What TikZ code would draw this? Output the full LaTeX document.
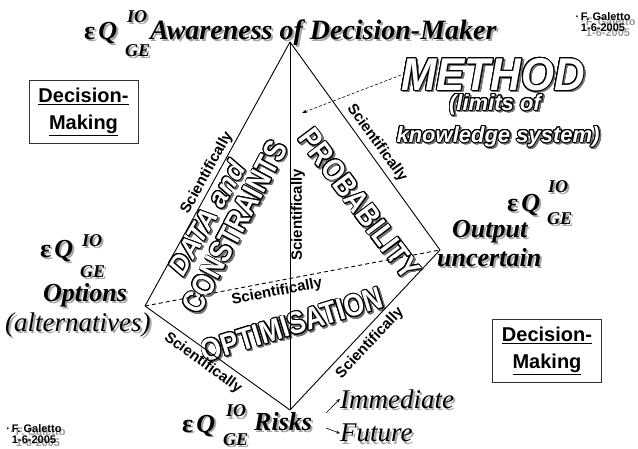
\documentclass[tikz,border=0pt]{standalone}
\usepackage{fontspec}
\setmainfont{Liberation Serif}
\setsansfont{Liberation Sans}
\newfontfamily\narrowfont[FakeStretch=0.85]{Liberation Sans}
\newfontfamily\methfont[FakeStretch=0.92]{Liberation Sans}
\usepackage{contour}
\contourlength{0.9pt}
\contournumber{20}
\usetikzlibrary{calc,arrows.meta}

\newcommand\shnode[4]{%
  \node[#3, text=black!35] at ($(#2)+(2,2)$) {#4};
  \node[#3] (#1) at (#2) {#4};}
\newcommand\olnode[4]{%
  \node[#3, text=black!55] at ($(#2)+(1.6,1.6)$) {\contour{black!55}{#4}};
  \node[#3, text=white] (#1) at (#2) {\contour{black}{#4}};}

\tikzset{
  edge/.style={line width=0.9pt, black},
  sci/.style={font=\sffamily\bfseries\fontsize{15}{15}\selectfont, inner sep=0pt},
  serb/.style={font=\bfseries\itshape\fontsize{26}{28}\selectfont, inner sep=0pt, anchor=base west},
  sert/.style={font=\bfseries\itshape\fontsize{28}{30}\selectfont, inner sep=0pt, anchor=base west},
  seri/.style={font=\itshape\fontsize{27}{29}\selectfont, inner sep=0pt, anchor=base west},
  serq/.style={font=\bfseries\fontsize{26}{28}\selectfont, inner sep=0pt, anchor=base west},
  sers/.style={font=\bfseries\itshape\fontsize{18}{20}\selectfont, inner sep=0pt, anchor=base west},
  olit/.style={font=\sffamily\bfseries\itshape\fontsize{27}{29}\selectfont, inner sep=0pt},
  olnar/.style={font=\narrowfont\bfseries\fontsize{31}{33}\selectfont, inner sep=0pt},
  olmeth/.style={font=\methfont\bfseries\itshape\fontsize{46}{48}\selectfont, inner sep=0pt},
  olrnd/.style={font=\sffamily\bfseries\itshape\fontsize{22}{24}\selectfont, inner sep=0pt},
  dmbox/.style={draw=black!80, line width=0.9pt, minimum width=109pt, minimum height=63pt,
     align=center, inner sep=0pt, font=\sffamily\bfseries\fontsize{20}{27}\selectfont},
  gal/.style={font=\sffamily\bfseries\fontsize{11}{11}\selectfont, align=center, inner sep=0pt},
  small arrow/.style={line width=0.6pt, -{Stealth[length=4pt,width=3pt]}}
}

\begin{document}
\begin{tikzpicture}[x=1pt, y=-1pt]
\useasboundingbox (0,0) rectangle (638,449);
\fill[white] (0,0) rectangle (638,449);

% vertices
\coordinate (T) at (290,42);
\coordinate (L) at (145,306);
\coordinate (R) at (440,250);
\coordinate (B) at (290,410);

% outline words (drawn under edges)
\olnode{data}{207,218}{olit, rotate=60}{DATA and}
\olnode{cons}{235,227}{olnar, rotate=62}{CONSTRAINTS}
\olnode{prob}{359,204}{olnar, rotate=-53}{PROBABILITY}
\olnode{optim}{292,325}{olnar, rotate=17}{OPTIMISATION}
\olnode{meth}{493,75}{olmeth}{METHOD}
\olnode{lim}{495,105}{olrnd}{(limits of}
\olnode{know}{498,137}{olrnd}{knowledge system)}

% edges
\draw[edge] (T) -- (L);
\draw[edge] (T) -- (R);
\draw[edge] (T) -- (B);
\draw[edge] (L) -- (B);
\draw[edge] (R) -- (B);
\draw[edge, dash pattern=on 4pt off 3pt] (L) -- (R);

% Scientifically labels
\node[sci, rotate=61] (s1) at (207,173) {Scientifically};
\node[sci, rotate=-54] (s2) at (377,143) {Scientifically};
\node[sci, rotate=90] (s3) at (298,215) {Scientifically};
\node[sci, rotate=10.7] (s4) at (277,292) {Scientifically};
\node[sci, rotate=-36] (s5) at (203,363) {Scientifically};
\node[sci, rotate=47] (s6) at (370,343) {Scientifically};

% method arrow
\coordinate (mt) at (302,113);
\draw[line width=0.6pt, dash pattern=on 3pt off 2pt, -{Stealth[length=5pt,width=3.5pt]}] (meth.west) -- (mt);

% top label
\shnode{eqA}{84,40}{serq}{ε\hspace{3pt}\itshape Q}
\shnode{ioA}{127,23}{sers}{IO}
\shnode{geA}{125,57}{sers}{GE}
\shnode{aw}{150,40}{sert}{Awareness of Decision-Maker}

% left label
\shnode{eqL}{40,258}{serq}{ε\hspace{3pt}\itshape Q}
\shnode{ioL}{82,247}{sers}{IO}
\shnode{geL}{80,278}{sers}{GE}
\shnode{opt}{43,302}{serb}{Options}
\shnode{alt}{5,332}{seri}{(alternatives)}

% right label
\shnode{eqR}{507,212}{serq}{ε\hspace{3pt}\itshape Q}
\shnode{ioR}{548,193}{sers}{IO}
\shnode{geR}{547,225}{sers}{GE}
\shnode{out}{452,238}{serb}{Output}
\shnode{unc}{437,267}{serb}{uncertain}

% bottom label
\shnode{eqB}{182,432}{serq}{ε\hspace{3pt}\itshape Q}
\shnode{ioB}{226,417}{sers}{IO}
\shnode{geB}{223,445}{sers}{GE}
\shnode{risks}{254,430}{serb}{Risks}
\shnode{imm}{340,408}{seri}{Immediate}
\shnode{fut}{340,442}{seri}{Future}
\coordinate (ra) at (326,413);
\coordinate (rf) at (326,428);
\draw[small arrow] (ra) -- (imm.west);
\draw[small arrow] (rf) -- (fut.west);

% Decision-Making boxes
\node[dmbox] (dm1) at (83.5,111.5) {\underline{Decision-}\\\underline{Making}};
\node[dmbox] (dm2) at (547,351) {\underline{Decision-}\\\underline{Making}};

% author marks
\node[gal, text=black!40] at (608,27) {·\,F. Galetto\\1-6-2005};
\node[gal] (g1) at (603,22) {·\,F. Galetto\\1-6-2005};
\node[gal, text=black!40] at (38,437) {·\,F. Galetto\\1-6-2005};
\node[gal] (g2) at (34,434) {·\,F. Galetto\\1-6-2005};
\end{tikzpicture}
\end{document}
